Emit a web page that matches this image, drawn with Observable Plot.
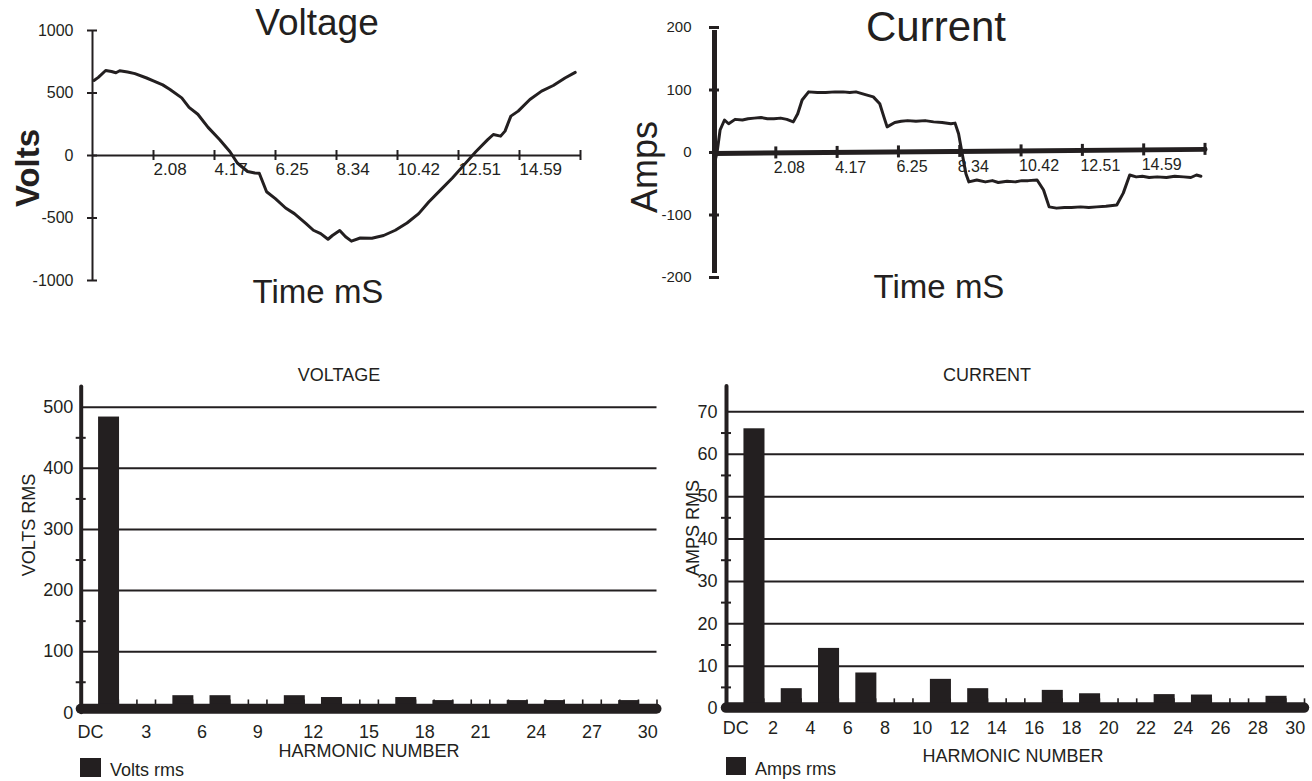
<!DOCTYPE html>
<html>
<head>
<meta charset="utf-8">
<script src="https://cdn.jsdelivr.net/npm/d3@7"></script>
<script src="https://cdn.jsdelivr.net/npm/@observablehq/plot@0.6"></script>
<style>
html,body{margin:0;padding:0;background:#fff;}
#root{position:relative;width:1312px;height:781px;overflow:hidden;font-family:"Liberation Sans",Arial,Helvetica,sans-serif;color:#231f20;}
#root svg{position:absolute;overflow:visible;}
.t{position:absolute;white-space:nowrap;line-height:1;}
.sw{position:absolute;background:#231f20;}
</style>
</head>
<body>
<div id="root"></div>
<script>
// ---------- data ----------
// time axis (ms)
const timeTickValues = [2.085, 4.17, 6.255, 8.34, 10.425, 12.51, 14.595, 16.68];
const timeTickLabels = ["2.08", "4.17", "6.25", "8.34", "10.42", "12.51", "14.59", ""];

// Voltage waveform
const voltYTicks = [1000, 500, 0, -500, -1000];
const voltT = [0.05, 0.2, 0.45, 0.65, 0.8, 0.93, 1.2, 1.45, 1.85, 2.1, 2.4, 2.65, 3.05, 3.3, 3.6, 3.95, 4.35, 4.7, 4.95, 5.3, 5.55, 5.7, 5.95, 6.25, 6.6, 6.9, 7.3, 7.55, 7.8, 8.05, 8.2, 8.45, 8.65, 8.85, 9.15, 9.55, 9.95, 10.35, 10.75, 11.15, 11.5, 11.9, 12.3, 12.7, 13.1, 13.5, 13.7, 13.95, 14.1, 14.3, 14.55, 14.95, 15.35, 15.75, 16.15, 16.5];
const voltV = [600, 625, 680, 672, 662, 678, 668, 655, 620, 595, 565, 528, 461, 385, 330, 225, 126, 30, -60, -128, -140, -142, -290, -345, -420, -465, -545, -598, -625, -670, -640, -600, -650, -685, -660, -662, -640, -598, -540, -465, -370, -275, -180, -75, 30, 125, 168, 155, 195, 315, 355, 448, 515, 560, 620, 665];

// Current waveform
const ampYTicks = [200, 100, 0, -100, -200];
const ampT = [0, 0.09, 0.19, 0.34, 0.48, 0.7, 0.95, 1.14, 1.35, 1.58, 1.8, 2.02, 2.25, 2.46, 2.68, 2.83, 2.98, 3.2, 3.5, 3.78, 4.1, 4.37, 4.6, 4.81, 5.1, 5.4, 5.62, 5.76, 5.87, 6.13, 6.35, 6.57, 6.85, 7.16, 7.45, 7.74, 8.04, 8.18, 8.3, 8.4, 8.55, 8.65, 8.92, 9.21, 9.45, 9.65, 9.95, 10.23, 10.45, 10.67, 10.97, 11.19, 11.38, 11.63, 11.9, 12.14, 12.45, 12.73, 13.0, 13.31, 13.68, 13.9, 14.12, 14.34, 14.55, 14.78, 15.05, 15.37, 15.65, 15.95, 16.2, 16.39, 16.54];
const ampA = [-17, 1, 36, 52, 46, 53, 52, 54, 55, 56, 54, 54, 55, 53, 49, 62, 84, 97, 96, 96, 97, 97, 96, 97, 93, 89, 78, 57, 41, 48, 50, 51, 50, 51, 49, 48, 46, 47, 30, 4, -34, -47, -44, -47, -45, -48, -46, -47, -45, -45, -44, -60, -87, -89, -88, -88, -87, -88, -87, -86, -84, -65, -36, -39, -38, -40, -39, -40, -38, -39, -40, -36, -38];
// slightly tilted zero line of the current plot
const ampAxisT = [0, 16.68];
const ampAxisA = [-1.5, 5];

// Harmonic spectra
const harmonics = d3.range(0, 31);
const voltsRms = [0, 484, 0, 3, 0, 28, 0, 28, 0, 3, 0, 28, 0, 25, 0, 3, 0, 25, 0, 20, 0, 2, 0, 20, 0, 20, 0, 2, 0, 20, 0];
const ampsRms = [0, 66, 0, 4.7, 0, 14.2, 0, 8.4, 0, 0.5, 0, 6.9, 0, 4.7, 0, 0.5, 0, 4.3, 0, 3.5, 0, 0.5, 0, 3.3, 0, 3.2, 0, 0.5, 0, 2.9, 0];
const voltBarMajor = [0, 100, 200, 300, 400, 500];
const voltBarMinor = [50, 150, 250, 350, 450];
const ampBarMajor = [0, 10, 20, 30, 40, 50, 60, 70];
const ampBarMinor = [5, 15, 25, 35, 45, 55, 65];
const voltXTickValues = [0, 3, 6, 9, 12, 15, 18, 21, 24, 27, 30];
const voltXTickLabels = ["DC", "3", "6", "9", "12", "15", "18", "21", "24", "27", "30"];
const ampXTickValues = [0, 2, 4, 6, 8, 10, 12, 14, 16, 18, 20, 22, 24, 26, 28, 30];
const ampXTickLabels = ["DC", "2", "4", "6", "8", "10", "12", "14", "16", "18", "20", "22", "24", "26", "28", "30"];

// ---------- rendering ----------
const ink = "#231f20";
const font = "'Liberation Sans', Arial, Helvetica, sans-serif";
const root = document.getElementById("root");

function place(svg, left, top) {
  svg.style.left = left + "px";
  svg.style.top = top + "px";
  root.appendChild(svg);
}
function label(txt, o) {
  const el = document.createElement("div");
  el.className = "t";
  el.textContent = txt;
  el.style.fontSize = o.size + "px";
  if (o.bold) el.style.fontWeight = "bold";
  el.style.left = o.x + "px";
  if (o.rotate) {
    el.style.top = o.y + "px";
    el.style.transform = "translate(-50%,-50%) rotate(-90deg)";
  } else {
    el.style.top = (o.y - 0.8465 * o.size) + "px";
    if (o.anchor !== "start") el.style.transform = "translateX(-50%)";
  }
  root.appendChild(el);
}
function swatch(x, y, w, h) {
  const el = document.createElement("div");
  el.className = "sw";
  Object.assign(el.style, {left: x + "px", top: y + "px", width: w + "px", height: h + "px"});
  root.appendChild(el);
}
const baseStyle = {fontFamily: font, color: ink, background: "transparent", overflow: "visible"};

// --- Voltage waveform ---
place(Plot.plot({
  width: 640, height: 300,
  marginLeft: 92, marginRight: 60, marginTop: 30, marginBottom: 20,
  x: {domain: [0, 16.68], axis: null},
  y: {domain: [-1000, 1000], axis: null},
  style: baseStyle,
  marks: [
    Plot.ruleX([0], {stroke: ink, strokeWidth: 2}),
    Plot.ruleY([0], {stroke: ink, strokeWidth: 2}),
    Plot.ruleY(voltYTicks, {x1: 0, x2: 0, insetLeft: -5, insetRight: -5, stroke: ink, strokeWidth: 2}),
    Plot.ruleX(timeTickValues, {y1: 0, y2: 0, insetTop: -5, insetBottom: -5, stroke: ink, strokeWidth: 2}),
    Plot.text(voltYTicks, {x: 0, y: d => d, text: d => String(d), textAnchor: "end", dx: -19, fontSize: 16, fill: ink}),
    Plot.text(timeTickValues, {x: d => d, y: 0, text: (d, i) => timeTickLabels[i], textAnchor: "start", lineAnchor: "top", dy: 7, fontSize: 17, fill: ink}),
    Plot.line(voltT, {x: d => d, y: (d, i) => voltV[i], stroke: ink, strokeWidth: 3, strokeLinejoin: "round"})
  ]
}), 0, 0);

// --- Current waveform ---
const axisAt = d3.scaleLinear().domain(ampAxisT).range(ampAxisA);
place(Plot.plot({
  width: 672, height: 300,
  marginLeft: 74, marginRight: 107.5, marginTop: 27, marginBottom: 23,
  x: {domain: [0, 16.68], axis: null},
  y: {domain: [-200, 200], axis: null},
  style: baseStyle,
  marks: [
    Plot.ruleX([0], {y1: -200, y2: 200, insetTop: -4, insetBottom: -3, stroke: ink, strokeWidth: 5}),
    Plot.line(ampAxisT, {x: d => d, y: (d, i) => ampAxisA[i], stroke: ink, strokeWidth: 5}),
    Plot.ruleY(ampYTicks, {x1: 0, x2: 0, insetLeft: -5, insetRight: -5, stroke: ink, strokeWidth: 3}),
    Plot.ruleX(timeTickValues, {y1: d => axisAt(d), y2: d => axisAt(d), insetTop: -6, insetBottom: -6, stroke: ink, strokeWidth: 3}),
    Plot.text(ampYTicks, {x: 0, y: d => d, text: d => String(d), textAnchor: "end", dx: -23, fontSize: 15, fill: ink}),
    Plot.text(timeTickValues, {x: d => d, y: d => axisAt(d), text: (d, i) => timeTickLabels[i], textAnchor: "start", lineAnchor: "top", dx: -2, dy: 9, fontSize: 16, fill: ink}),
    Plot.line(ampT, {x: d => d, y: (d, i) => ampA[i], stroke: ink, strokeWidth: 3, strokeLinejoin: "round"})
  ]
}), 640, 0);

// --- spectra ---
function spectrum({values, major, minor, yMax, tickTop, bandDy, bandWidth, xVals, xLabels, width, mL, mR, mT, mB, labelDx}) {
  return Plot.plot({
    width, height: 400,
    marginLeft: mL, marginRight: mR, marginTop: mT, marginBottom: mB,
    x: {domain: [-0.5, 30.5], axis: null},
    y: {domain: [0, yMax], axis: null},
    style: baseStyle,
    marks: [
      Plot.ruleY(major.filter(d => d > 0), {x1: -0.5, x2: 30.5, stroke: ink, strokeWidth: 2}),
      Plot.ruleX(harmonics, {x: d => d + 0.5, y1: 0, y2: tickTop, stroke: ink, strokeWidth: 1.6}),
      Plot.rect(harmonics, {x1: d => d - 0.5, x2: d => d + 0.5, y1: 0, y2: (d, i) => values[i], insetLeft: -1.2, insetRight: -1.2, fill: ink}),
      Plot.ruleY([0], {x1: -0.5, x2: 30.5, dy: bandDy, stroke: ink, strokeWidth: bandWidth, strokeLinecap: "round"}),
      Plot.ruleX([-0.5], {stroke: ink, strokeWidth: 4, strokeLinecap: "round"}),
      Plot.ruleY(minor, {x1: -0.5, x2: -0.5, insetLeft: -5, insetRight: -5, stroke: ink, strokeWidth: 2}),
      Plot.text(major, {x: -0.5, y: d => d, text: d => String(d), textAnchor: "end", dx: labelDx, fontSize: 18, fill: ink}),
      Plot.text(xVals, {x: d => d, y: 0, text: (d, i) => xLabels[i], lineAnchor: "top", dy: 12.5, fontSize: 18, fill: ink})
    ]
  });
}

place(spectrum({values: voltsRms, major: voltBarMajor, minor: voltBarMinor, yMax: 533, tickTop: 21,
  bandDy: -4, bandWidth: 10, xVals: voltXTickValues, xLabels: voltXTickLabels,
  width: 660, mL: 80.7, mR: 3.5, mT: 26.6, mB: 47.7, labelDx: -8}), 0, 360);

place(spectrum({values: ampsRms, major: ampBarMajor, minor: ampBarMinor, yMax: 76, tickTop: 2.3,
  bandDy: -1, bandWidth: 10.5, xVals: ampXTickValues, xLabels: ampXTickLabels,
  width: 662, mL: 76, mR: 8, mT: 25.9, mB: 51.9, labelDx: -9}), 650, 360);

// ---------- texts ----------
label("Voltage", {x: 317, y: 35, size: 37});
label("Time mS", {x: 318, y: 303, size: 33});
label("Volts", {x: 27, y: 168, size: 33, bold: true, rotate: true});

label("Current", {x: 936, y: 41.5, size: 42});
label("Time mS", {x: 939, y: 298, size: 33});
label("Amps", {x: 645, y: 167, size: 36, rotate: true});

label("VOLTAGE", {x: 339, y: 381, size: 18});
label("VOLTS RMS", {x: 29, y: 525, size: 18, rotate: true});
label("HARMONIC NUMBER", {x: 369, y: 757, size: 18});
swatch(80, 758, 21, 19);
label("Volts rms", {x: 110, y: 776, size: 18, anchor: "start"});

label("CURRENT", {x: 987, y: 381, size: 18});
label("AMPS RMS", {x: 693, y: 528, size: 18, rotate: true});
label("HARMONIC NUMBER", {x: 1013, y: 762, size: 18});
swatch(726, 757, 20, 18);
label("Amps rms", {x: 755, y: 775, size: 18, anchor: "start"});
</script>
</body>
</html>
